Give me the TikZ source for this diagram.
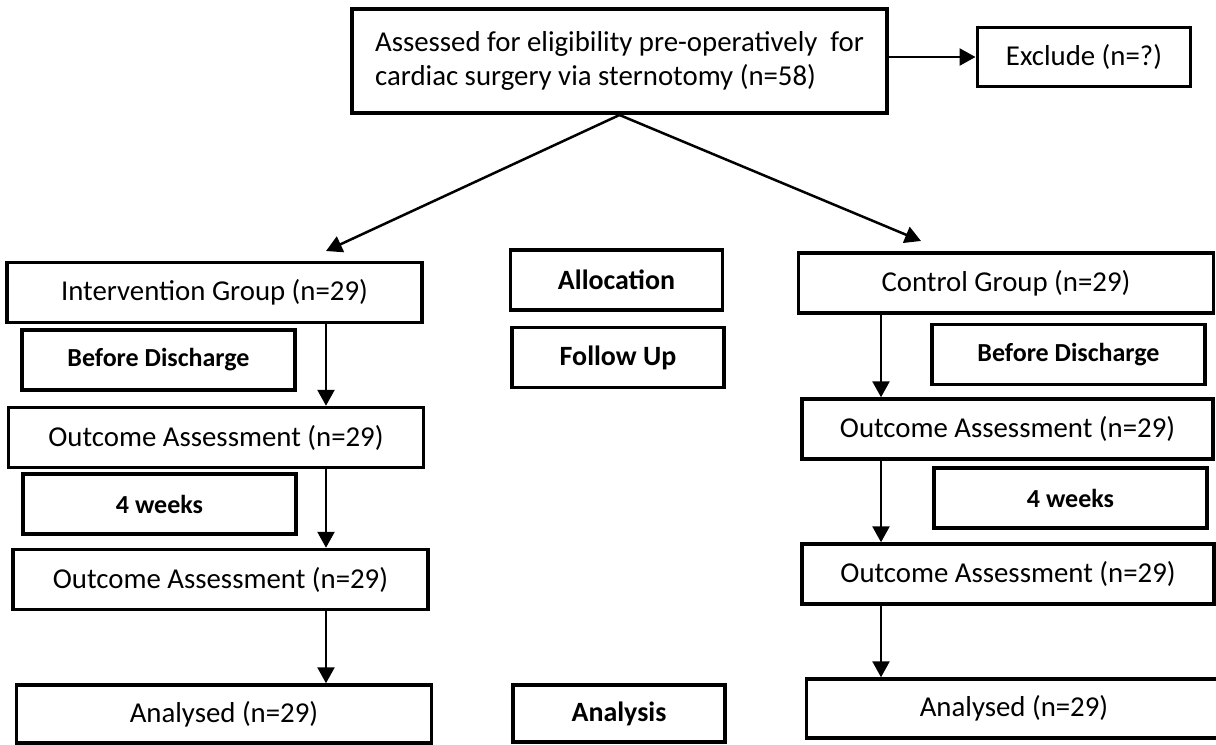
\documentclass[tikz,border=0pt]{standalone}
\usepackage{fontspec}
\setmainfont{Carlito}
\usepackage{tikz}
\usetikzlibrary{positioning, arrows.meta}

\begin{document}
\begin{tikzpicture}[x=0.02cm, y=-0.02cm,
        box/.style={draw, line width=0.07cm, inner sep=0pt, minimum width=8.3cm, minimum height=1.2cm,
            font=\fontsize{16.4}{18.7}\selectfont},
        tag/.style={box, minimum width=5.46cm, font=\bfseries\fontsize{14.8}{17}\selectfont},
        stage/.style={box, minimum width=4.24cm, font=\bfseries\fontsize{15.9}{18}\selectfont},
        arr/.style={line width=0.05cm, -{Triangle[length=0.32cm, width=0.34cm]}}]
    \useasboundingbox (0,0) rectangle (1216,744);

    % screening
    \node[box, line width=0.08cm, minimum width=10.7cm, minimum height=2.08cm, align=left,
        font=\fontsize{16.4}{19}\selectfont]
        (top) at (619.5,61) {Assessed for eligibility pre-operatively~ for\\cardiac surgery via sternotomy (n=58)};
    \node[box, line width=0.06cm, minimum width=4.28cm] (exc) at (1084,57) {Exclude (n=?)};

    % intervention arm
    \node[box] (ig) at (214.5,292.5) {Intervention Group (n=29)};
    \node[tag] (bd1) at (158.5,360) {Before Discharge};
    \node[box] (oa1) at (216,437.5) {Outcome Assessment (n=29)};
    \node[tag] (wk1) at (159.5,504) {4 weeks};
    \node[box] (oa2) at (220.5,579.5) {Outcome Assessment (n=29)};
    \node[box, minimum height=1.16cm] (an1) at (224,714) {Analysed (n=29)};

    % stages
    \node[stage] (alloc) at (616.5,280) {Allocation};
    \node[stage] (fu) at (618,357.5) {Follow Up};
    \node[stage, minimum height=1.14cm] (ana) at (619,713.5) {Analysis};

    % control arm
    \node[box] (cg) at (1006,283) {Control Group (n=29)};
    \node[tag] (bd2) at (1068.5,354.5) {Before Discharge};
    \node[box, minimum width=8.22cm] (oa3) at (1007.5,429) {Outcome Assessment (n=29)};
    \node[tag] (wk2) at (1070.5,498) {4 weeks};
    \node[box, minimum width=8.24cm] (oa4) at (1008,574) {Outcome Assessment (n=29)};
    \node[box, minimum height=1.18cm] (an2) at (1014,708.5) {Analysed (n=29)};

    \coordinate (la) at (326,251);
    \coordinate (ra) at (921,241);
    \coordinate (lcol) at (326,0);
    \coordinate (rcol) at (881,0);

    \draw[arr] (top.east |- exc) -- (exc.west);
    \draw[arr] (top.south) -- (la);
    \draw[arr] (top.south) -- (ra);
    \draw[arr] (ig.south -| lcol) -- (oa1.north -| lcol);
    \draw[arr] (oa1.south -| lcol) -- (oa2.north -| lcol);
    \draw[arr] (oa2.south -| lcol) -- (an1.north -| lcol);
    \draw[arr] (cg.south -| rcol) -- (oa3.north -| rcol);
    \draw[arr] (oa3.south -| rcol) -- (oa4.north -| rcol);
    \draw[arr] (oa4.south -| rcol) -- (an2.north -| rcol);
\end{tikzpicture}
\end{document}
